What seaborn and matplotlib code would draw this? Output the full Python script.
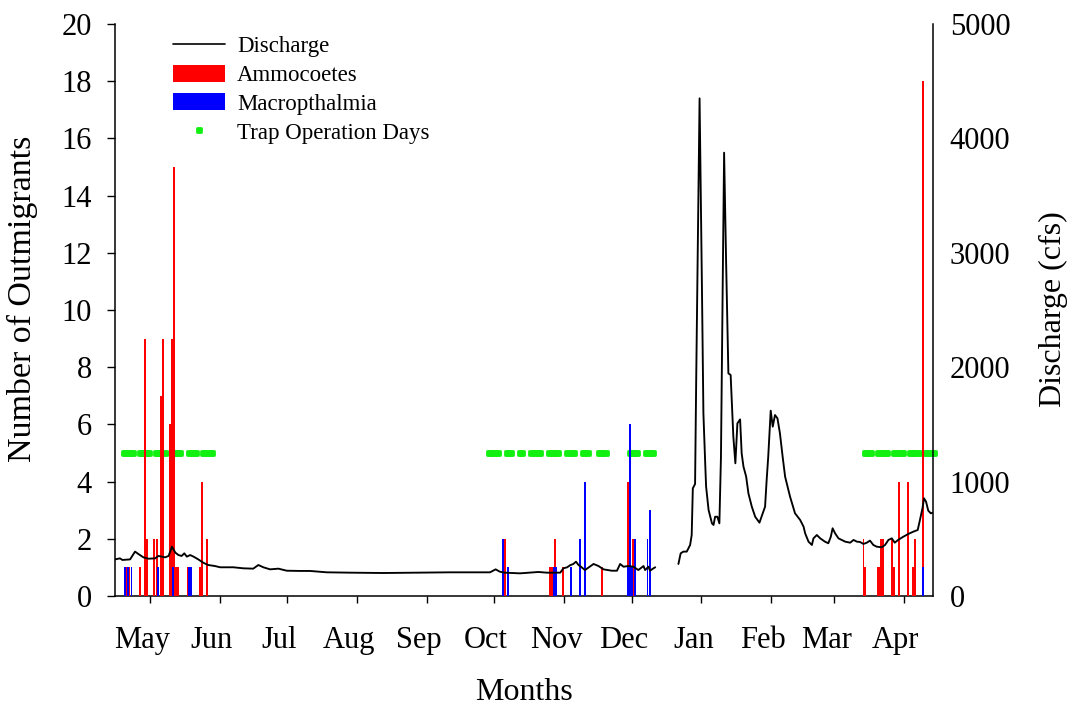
import numpy as np
import pandas as pd
import matplotlib
matplotlib.use("Agg")
import matplotlib.pyplot as plt
from matplotlib.lines import Line2D
from matplotlib.patches import Patch
from matplotlib.markers import MarkerStyle
import seaborn as sns

# ---------------- data (x = day index, 0 = 15 April) ----------------
months = ["May", "Jun", "Jul", "Aug", "Sep", "Oct", "Nov", "Dec",
          "Jan", "Feb", "Mar", "Apr"]
month_start = [16, 47, 77, 108, 139, 169, 200, 230, 261, 292, 320, 351]

amm_day = [5.1, 6.3, 11.0, 13.3, 14.3, 17.2, 18.8, 20.4, 21.3, 24.4, 25.3, 26.2,
           26.8, 27.5, 28.2, 32.3, 37.6, 38.7, 40.7,
           173.4, 193.2, 194.0, 195.4, 199.1, 206.4, 216.4, 227.8, 230.3,
           332.5, 333.3, 338.8, 339.5, 340.3, 341.3, 345.1, 346.1, 348.4,
           352.3, 354.4, 355.3, 359.1]
amm_count = [1, 1, 1, 9, 2, 2, 2, 7, 9, 6, 9, 15,
             1, 1, 1, 1, 1, 4, 2,
             2, 1, 1, 2, 1, 2, 1, 4, 2,
             2, 1, 1, 1, 2, 2, 2, 1, 4,
             4, 1, 2, 18]

mac_day = [4.5, 5.7, 7.3, 19.2, 25.7, 32.9, 33.9,
           172.5, 174.7, 195.2, 195.9, 202.6, 206.6, 208.7, 227.9, 228.7,
           229.6, 230.9, 236.6, 237.6,
           359.1]
mac_count = [1, 1, 1, 1, 1, 1, 1,
             2, 1, 1, 1, 1, 2, 4, 1, 6,
             1, 2, 2, 3,
             1]

trap_start = [4, 11, 18, 25, 33, 39,
              166, 174, 180, 185, 193, 201, 208, 215, 229, 236,
              333, 339, 346, 353, 360]
trap_end = [8, 15, 22, 29, 36, 43,
            170, 176, 181, 189, 197, 204, 210, 218, 232, 239,
            336, 343, 350, 357, 364]
trap_level = 5

q1_day = [0.0, 2.2, 3.3, 6.7, 8.9, 10.4, 12.6, 14.9, 17.8, 19.3, 22.3, 23.8,
          25.3, 26.8, 28.2, 29.6, 30.8, 31.9, 33.4, 34.9, 37.0, 39.2, 41.4,
          44.4, 46.7, 52.6, 57.0, 61.4, 63.7, 65.9, 68.9, 72.6, 76.3, 82.2,
          86.6, 94.1, 104.4, 119.2, 134.0, 148.8, 156.2, 166.6, 169.1, 170.9,
          173.1, 179.9, 188.1, 191.8, 197.8, 199.2, 200.9, 202.1, 203.6,
          204.8, 205.9, 206.6, 208.8, 212.6, 214.8, 217.0, 220.7, 223.0,
          224.4, 225.9, 228.1, 230.3, 232.5, 234.8, 235.5, 237.0, 237.7,
          239.2, 240.0]
q1_cfs = [320, 329, 315, 320, 388, 367, 338, 326, 329, 350, 338, 350,
          431, 379, 358, 350, 373, 344, 358, 344, 320, 291, 271,
          262, 251, 251, 242, 239, 271, 251, 233, 239, 221, 219,
          219, 207, 204, 201, 204, 207, 207, 207, 233, 213,
          204, 198, 210, 204, 204, 242, 251, 268, 280,
          300, 271, 262, 227, 280, 262, 233, 221, 221,
          280, 256, 262, 256, 227, 262, 227, 256, 221,
          242, 251]

q2_day = [250.3, 251.3, 252.5, 254.0, 255.5, 256.2, 256.7, 257.7, 258.2, 259.7,
          260.8, 261.4, 262.2, 262.6, 263.7, 265.2, 265.9, 266.6, 267.6, 268.5,
          269.2, 270.0, 270.6, 271.5, 272.5, 273.5, 274.7, 275.6, 276.5, 277.7,
          278.4, 279.2, 280.4, 281.4, 282.9, 284.4, 286.3, 288.8, 289.5, 290.2,
          291.3, 292.2, 293.2, 294.3, 295.4, 296.6, 297.7, 299.9, 302.1, 304.4,
          305.9, 306.6, 308.1, 309.6, 310.3, 311.8, 313.3, 315.4, 316.9, 318.0,
          318.8, 319.9, 321.4, 324.4, 326.6, 328.1, 329.6, 331.0, 332.5, 334.0,
          335.4, 336.9, 338.4, 340.6, 342.1, 343.6, 345.1, 346.4, 347.9, 350.2,
          352.4, 354.6, 356.6, 357.6, 358.8, 359.4, 360.3, 361.3, 362.4, 363.3]
q2_cfs = [280, 373, 388, 388, 446, 533, 941, 979, 1888, 4350,
          2617, 1597, 1160, 956, 752, 635, 621, 693, 693, 635,
          1218, 2762, 3875, 2908, 1946, 1932, 1393, 1160, 1509, 1544,
          1247, 1131, 1043, 897, 781, 693, 641, 781, 1014, 1218,
          1620, 1480, 1582, 1553, 1422, 1218, 1043, 868, 723, 664,
          606, 548, 475, 446, 504, 533, 504, 475, 461, 518,
          592, 548, 504, 475, 466, 490, 475, 472, 455, 466,
          484, 446, 431, 426, 446, 490, 504, 466, 490, 518,
          542, 562, 577, 664, 775, 854, 825, 746, 723, 728]

# ---------------- style ----------------
RED = "#ff0000"
BLUE = "#0000ff"
GREEN = "#12f012"

sns.set_theme(style="ticks")
plt.rcParams["font.family"] = ["Liberation Serif", "DejaVu Serif"]
plt.rcParams["axes.linewidth"] = 1.1
plt.rcParams["xtick.major.width"] = 1.0
plt.rcParams["ytick.major.width"] = 1.0
plt.rcParams["xtick.color"] = "black"
plt.rcParams["ytick.color"] = "black"
plt.rcParams["axes.edgecolor"] = "black"
plt.rcParams["text.color"] = "black"
plt.rcParams["axes.labelcolor"] = "black"

fig = plt.figure(figsize=(10.73, 7.09), dpi=100)
ax = fig.add_axes([115 / 1073, 1 - 596 / 709, 818 / 1073, 572 / 709])
ax2 = ax.twinx()

# trap operation days
trap_days = [d for a, b in zip(trap_start, trap_end) for d in range(a, b + 1)]
trap_df = pd.DataFrame({"day": trap_days, "y": [trap_level] * len(trap_days)})
sns.scatterplot(data=trap_df, x="day", y="y", marker="s", s=8.5, color=GREEN,
                edgecolor=GREEN, linewidth=2.0, ax=ax, zorder=2,
                clip_on=False, legend=False)
for coll in ax.collections:
    coll.set_joinstyle("round")

# bars
ax.bar(amm_day, amm_count, width=0.8, color=RED, linewidth=0, zorder=3)
ax.bar(mac_day, mac_count, width=0.8, color=BLUE, linewidth=0, zorder=4)

# discharge
q_df = pd.DataFrame({
    "day": q1_day + q2_day,
    "cfs": q1_cfs + q2_cfs,
    "seg": [1] * len(q1_day) + [2] * len(q2_day),
})
sns.lineplot(data=q_df, x="day", y="cfs", units="seg", estimator=None,
             color="black", linewidth=1.35, ax=ax2, legend=False)

# axes limits / ticks
ax.set_xlim(0, 363.4)
ax.set_ylim(0, 20)
ax2.set_ylim(0, 5000)

tick_pos = [m - 0.5 for m in month_start]
label_pos = [t - 3.6 for t in tick_pos]
ax.set_xticks(tick_pos)
ax.set_xticklabels([""] * len(tick_pos))
ax.set_xticks(label_pos, labels=months, minor=True)
ax.tick_params(axis="x", which="major", direction="out", length=5, width=1.0)
ax.tick_params(axis="x", which="minor", length=0, pad=21.6, labelsize=22)

ax.set_yticks(range(0, 21, 2))
ax.tick_params(axis="y", direction="out", length=5.8, width=1.0, pad=11,
               labelsize=22)
ax2.set_yticks(range(0, 5001, 1000))
ax2.tick_params(axis="y", length=0, pad=12, labelsize=22)

for a in (ax, ax2):
    a.spines["top"].set_visible(False)
ax.spines["right"].set_visible(False)
ax2.spines["left"].set_visible(False)
ax2.spines["bottom"].set_visible(False)

# labels
ax.set_xlabel("Months", fontsize=23)
ax.xaxis.label.set_va("center")
ax.xaxis.set_label_coords(0.5, (596 - 692) / 572)
ax.set_ylabel("Number of Outmigrants", fontsize=24.5)
ax.yaxis.label.set_va("center")
ax.yaxis.set_label_coords((22 - 115) / 818, 0.52)
ax2.set_ylabel("Discharge (cfs)", fontsize=23)
ax2.yaxis.label.set_va("center")
ax2.yaxis.set_label_coords((1053 - 115) / 818, 0.502)

# legend
handles = [
    Line2D([], [], color="black", linewidth=1.2),
    Patch(facecolor=RED, edgecolor="none"),
    Patch(facecolor=BLUE, edgecolor="none"),
    Line2D([], [], linestyle="none",
           marker=MarkerStyle("s", joinstyle="round"), markersize=2.9,
           markerfacecolor=GREEN, markeredgecolor=GREEN, markeredgewidth=2.0),
]
labels = ["Discharge", "Ammocoetes", "Macropthalmia", "Trap Operation Days"]
fig.legend(handles, labels, loc="upper left",
           bbox_to_anchor=(173 / 1073, 1 - 36 / 709), frameon=False,
           fontsize=16.5, handlelength=2.27, handleheight=0.75,
           handletextpad=0.52, labelspacing=0.32, borderpad=0,
           borderaxespad=0)

fig.savefig("out.png", dpi=100)
